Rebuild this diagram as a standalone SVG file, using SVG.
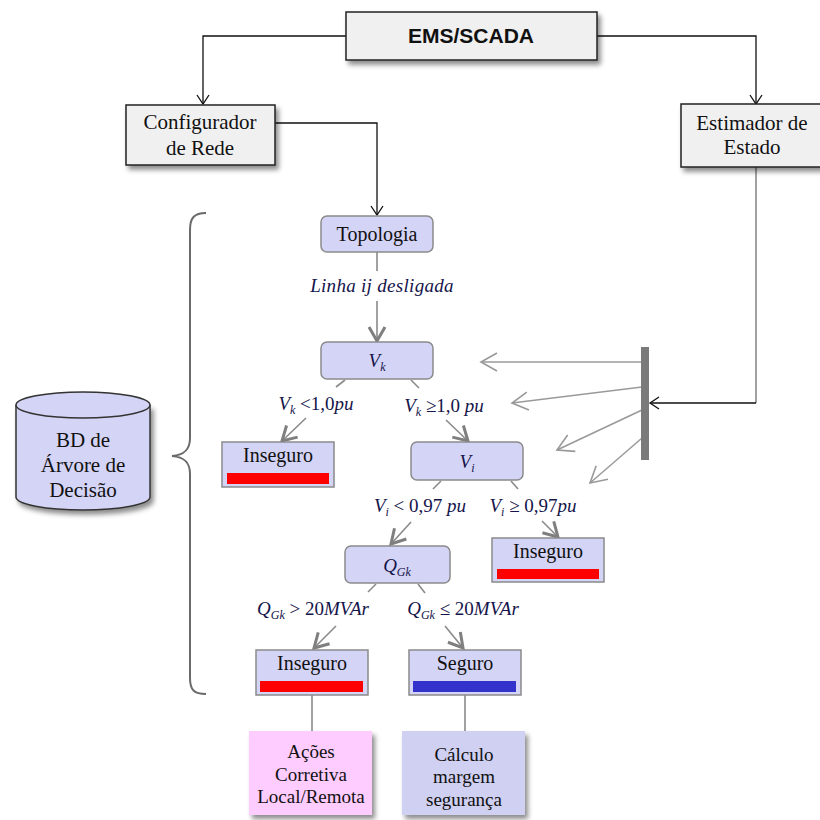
<svg xmlns="http://www.w3.org/2000/svg" width="820" height="820" viewBox="0 0 820 820">
<defs>
<filter id="sh" x="-10%" y="-10%" width="130%" height="140%">
<feDropShadow dx="3" dy="4" stdDeviation="2.5" flood-color="#000" flood-opacity="0.45"/>
</filter>
<marker id="ab" markerWidth="14" markerHeight="14" refX="10" refY="7" orient="auto" markerUnits="userSpaceOnUse">
<path d="M1,1 L10,7 L1,13" fill="none" stroke="#111" stroke-width="1.3"/>
</marker>
<marker id="ag" markerWidth="22" markerHeight="22" refX="16" refY="11" orient="auto" markerUnits="userSpaceOnUse">
<path d="M2,3 L16,11 L2,19" fill="none" stroke="#7f7f7f" stroke-width="3"/>
</marker>
<marker id="agt" markerWidth="24" markerHeight="24" refX="18" refY="12" orient="auto" markerUnits="userSpaceOnUse">
<path d="M2,3 L18,12 L2,21" fill="none" stroke="#999" stroke-width="1.6"/>
</marker>
</defs>
<style>
.gbox{fill:#f0f0f0;stroke:#222;stroke-width:1.5}
.node{fill:#d4d4f6;stroke:#8a8a8a;stroke-width:1.5}
.leaf{fill:#d4d4f6;stroke:#8a8a8a;stroke-width:1.5}
.t{font-family:"Liberation Serif","Times New Roman",serif;font-size:20px;fill:#111;text-anchor:middle}
.big{font-size:21px}
.sm{font-size:19px}
.m{font-family:"Liberation Serif","Times New Roman",serif;font-size:19px;fill:#14144a;text-anchor:middle}
.i{font-style:italic}
.s{font-size:12px}
.cb{fill:none;stroke:#111;stroke-width:1.3}
.cg{fill:none;stroke:#8a8a8a;stroke-width:1.6}
.ct{fill:none;stroke:#9a9a9a;stroke-width:1.5}
</style>

<g id="connectors">
<polyline class="cb" points="346,36 203,36 203,104" marker-end="url(#ab)"/>
<polyline class="cb" points="597,36 756,36 756,104" marker-end="url(#ab)"/>
<polyline class="cb" points="275,123 377,123 377,215" marker-end="url(#ab)"/>
<polyline class="cg" points="756,167 756,403"/>
<polyline class="cb" points="756,403 650,403" marker-end="url(#ab)"/>
<line class="ct" x1="642" y1="362" x2="481" y2="362" marker-end="url(#agt)"/>
<line class="ct" x1="642" y1="387" x2="512" y2="403" marker-end="url(#agt)"/>
<line class="ct" x1="642" y1="410" x2="557" y2="450" marker-end="url(#agt)"/>
<line class="ct" x1="642" y1="438" x2="590" y2="483" marker-end="url(#agt)"/>
<line class="cg" x1="377" y1="252" x2="377" y2="271"/>
<line class="cg" x1="377" y1="301" x2="377" y2="341" marker-end="url(#ag)"/>
<line class="cg" x1="345" y1="380" x2="336" y2="387"/>
<line class="cg" x1="306" y1="418" x2="282" y2="441" marker-end="url(#ag)"/>
<line class="cg" x1="411" y1="380" x2="419" y2="388"/>
<line class="cg" x1="446" y1="420" x2="468" y2="441" marker-end="url(#ag)"/>
<line class="cg" x1="441" y1="481" x2="433" y2="489"/>
<line class="cg" x1="411" y1="522" x2="391" y2="544" marker-end="url(#ag)"/>
<line class="cg" x1="511" y1="481" x2="518" y2="489"/>
<line class="cg" x1="542" y1="521" x2="558" y2="537" marker-end="url(#ag)"/>
<line class="cg" x1="376" y1="584" x2="368" y2="592"/>
<line class="cg" x1="336" y1="626" x2="314" y2="648" marker-end="url(#ag)"/>
<line class="cg" x1="418" y1="584" x2="425" y2="593"/>
<line class="cg" x1="445" y1="626" x2="463" y2="648" marker-end="url(#ag)"/>
<line class="cg" x1="312" y1="695" x2="312" y2="731"/>
<line class="cg" x1="465" y1="695" x2="465" y2="731"/>
</g>

<g id="bar"><rect x="641" y="347" width="8" height="113" fill="#7a7a7a"/></g>

<g id="brace">
<path d="M206,213 C194,213 190,218 190,230 L190,438 C190,450 184,455 172,456 C184,457 190,462 190,474 L190,678 C190,690 194,694 206,694" fill="none" stroke="#6a6a6a" stroke-width="2"/>
</g>

<g id="ems">
<rect class="gbox" x="346" y="12" width="251" height="48" filter="url(#sh)"/>
<text x="471" y="43" font-family="'Liberation Sans',Arial,sans-serif" font-size="21" font-weight="bold" text-anchor="middle" fill="#111">EMS/SCADA</text>
</g>

<g id="configurador">
<rect class="gbox" x="126" y="105" width="149" height="60" filter="url(#sh)"/>
<text class="t big" x="200" y="129">Configurador</text>
<text class="t big" x="200" y="155">de Rede</text>
</g>

<g id="estimador">
<rect class="gbox" x="681" y="104" width="145" height="63" filter="url(#sh)"/>
<text class="t big" x="752" y="130">Estimador de</text>
<text class="t big" x="752" y="154">Estado</text>
</g>

<g id="bd">
<path d="M16,405 L16,497 A67,13 0 0 0 150,497 L150,405" fill="#d4d4f6" stroke="#333" stroke-width="1.5" filter="url(#sh)"/>
<ellipse cx="83" cy="405" rx="67" ry="13" fill="#d4d4f6" stroke="#333" stroke-width="1.5"/>
<text class="t big" x="83" y="447">BD de</text>
<text class="t big" x="83" y="472">Árvore de</text>
<text class="t big" x="83" y="497">Decisão</text>
</g>

<g id="topologia">
<rect class="node" x="321" y="216" width="112" height="36" rx="6"/>
<text class="t" x="377" y="241">Topologia</text>
</g>
<text class="m i" x="382" y="292" letter-spacing="0.3">Linha ij desligada</text>

<g id="vk">
<rect class="node" x="321" y="342" width="112" height="37" rx="6"/>
<text class="m" x="377" y="367" font-size="20"><tspan class="i">V</tspan><tspan class="i s" dy="4">k</tspan></text>
</g>
<text class="m" x="316" y="410"><tspan class="i">V</tspan><tspan class="i s" dy="4">k</tspan><tspan dy="-4"> &lt;1,0</tspan><tspan class="i">pu</tspan></text>
<text class="m" x="444" y="412"><tspan class="i">V</tspan><tspan class="i s" dy="4">k</tspan><tspan dy="-4"> ≥1,0 </tspan><tspan class="i">pu</tspan></text>

<g id="inseguro1">
<rect class="leaf" x="222" y="442" width="112" height="45"/>
<rect x="227" y="473" width="102" height="11" fill="#ff0000"/>
<text class="t" x="278" y="462">Inseguro</text>
</g>

<g id="vi">
<rect class="node" x="411" y="442" width="112" height="38" rx="6"/>
<text class="m" x="467" y="468" font-size="20"><tspan class="i">V</tspan><tspan class="i s" dy="4">i</tspan></text>
</g>
<text class="m" x="420" y="512"><tspan class="i">V</tspan><tspan class="i s" dy="4">i</tspan><tspan dy="-4"> &lt; 0,97 </tspan><tspan class="i">pu</tspan></text>
<text class="m" x="533" y="512"><tspan class="i">V</tspan><tspan class="i s" dy="4">i</tspan><tspan dy="-4"> ≥ 0,97</tspan><tspan class="i">pu</tspan></text>

<g id="inseguro2">
<rect class="leaf" x="492" y="538" width="112" height="44"/>
<rect x="497" y="569" width="102" height="10" fill="#ff0000"/>
<text class="t" x="548" y="558">Inseguro</text>
</g>

<g id="qgk">
<rect class="node" x="345" y="546" width="105" height="37" rx="6"/>
<text class="m" x="397" y="572" font-size="20"><tspan class="i">Q</tspan><tspan class="i s" dy="4">Gk</tspan></text>
</g>
<text class="m" x="313" y="615"><tspan class="i">Q</tspan><tspan class="i s" dy="4">Gk</tspan><tspan dy="-4"> &gt; 20</tspan><tspan class="i">MVAr</tspan></text>
<text class="m" x="463" y="615"><tspan class="i">Q</tspan><tspan class="i s" dy="4">Gk</tspan><tspan dy="-4"> ≤ 20</tspan><tspan class="i">MVAr</tspan></text>

<g id="inseguro3">
<rect class="leaf" x="256" y="650" width="112" height="45"/>
<rect x="260" y="681" width="103" height="11" fill="#ff0000"/>
<text class="t" x="312" y="670">Inseguro</text>
</g>

<g id="seguro">
<rect class="leaf" x="409" y="650" width="112" height="45"/>
<rect x="413" y="681" width="103" height="11" fill="#3333cc"/>
<text class="t" x="465" y="670">Seguro</text>
</g>

<g id="acoes">
<rect x="249" y="731" width="123" height="84" fill="#ffccff" filter="url(#sh)"/>
<text class="t sm" x="311" y="758">Ações</text>
<text class="t sm" x="311" y="781">Corretiva</text>
<text class="t sm" x="311" y="803">Local/Remota</text>
</g>

<g id="calculo">
<rect x="402" y="731" width="123" height="84" fill="#d0d0f2" filter="url(#sh)"/>
<text class="t sm" x="464" y="761">Cálculo</text>
<text class="t sm" x="464" y="783">margem</text>
<text class="t sm" x="464" y="806">segurança</text>
</g>
</svg>
